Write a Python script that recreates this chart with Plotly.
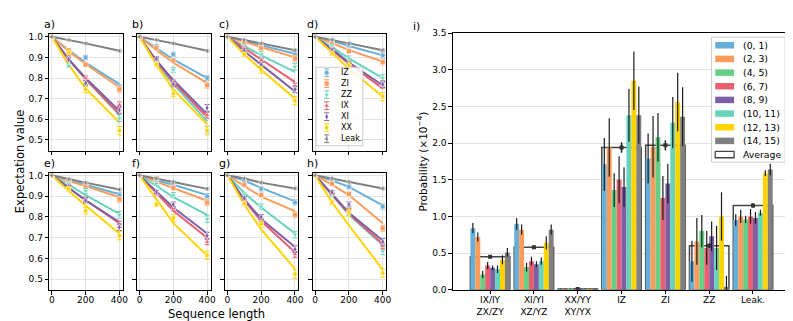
import plotly.graph_objects as go

W, H = 793, 321

# ---- left panels: Pauli expectation values vs sequence length ----
seq_len = [0, 100, 200, 400]
names = ['IZ', 'ZI', 'ZZ', 'IX', 'XI', 'XX', 'Leak.']
line_colors = ['#68afd8', '#fd9b5b', '#67d3bc', '#e8606f', '#7d5fa6', '#ffd400', '#7f7f7f']
symbols = ['circle', 'square', 'triangle-down', 'triangle-up', 'diamond-tall', 'hexagon', 'triangle-left']

# fitted curves (order: IZ, ZI, ZZ, IX, XI, XX, Leak.)
a_fit = [[1.0, 0.935, 0.875, 0.77], [1.0, 0.93, 0.868, 0.755], [1.0, 0.89, 0.795, 0.62], [1.0, 0.89, 0.795, 0.625],
         [1.0, 0.89, 0.80, 0.64], [1.0, 0.865, 0.75, 0.585], [1.0, 0.985, 0.968, 0.932]]
b_fit = [[1.0, 0.945, 0.89, 0.80], [1.0, 0.935, 0.875, 0.775], [1.0, 0.875, 0.77, 0.59], [1.0, 0.88, 0.78, 0.61],
         [1.0, 0.885, 0.79, 0.625], [1.0, 0.865, 0.745, 0.575], [1.0, 0.985, 0.968, 0.932]]
c_fit = [[1.0, 0.98, 0.96, 0.918], [1.0, 0.975, 0.95, 0.90], [1.0, 0.955, 0.91, 0.83], [1.0, 0.945, 0.89, 0.78],
         [1.0, 0.93, 0.865, 0.735], [1.0, 0.915, 0.84, 0.70], [1.0, 0.985, 0.968, 0.935]]
d_fit = [[1.0, 0.98, 0.955, 0.91], [1.0, 0.97, 0.935, 0.88], [1.0, 0.95, 0.895, 0.80], [1.0, 0.935, 0.87, 0.75],
         [1.0, 0.94, 0.875, 0.765], [1.0, 0.92, 0.845, 0.71], [1.0, 0.985, 0.968, 0.935]]
e_fit = [[1.0, 0.975, 0.955, 0.909], [1.0, 0.972, 0.948, 0.895], [1.0, 0.955, 0.905, 0.815], [1.0, 0.94, 0.88, 0.77],
         [1.0, 0.94, 0.88, 0.775], [1.0, 0.925, 0.855, 0.72], [1.0, 0.982, 0.965, 0.932]]
f_fit = [[1.0, 0.975, 0.955, 0.905], [1.0, 0.97, 0.94, 0.878], [1.0, 0.95, 0.895, 0.81], [1.0, 0.915, 0.83, 0.70],
         [1.0, 0.92, 0.845, 0.72], [1.0, 0.885, 0.77, 0.615], [1.0, 0.985, 0.968, 0.935]]
g_fit = [[1.0, 0.975, 0.94, 0.875], [1.0, 0.95, 0.898, 0.828], [1.0, 0.915, 0.845, 0.72], [1.0, 0.88, 0.78, 0.63],
         [1.0, 0.885, 0.79, 0.655], [1.0, 0.86, 0.74, 0.55], [1.0, 0.985, 0.965, 0.937]]
h_fit = [[1.0, 0.975, 0.945, 0.855], [1.0, 0.955, 0.905, 0.77], [1.0, 0.905, 0.81, 0.665], [1.0, 0.905, 0.815, 0.67],
         [1.0, 0.91, 0.82, 0.687], [1.0, 0.87, 0.76, 0.546], [1.0, 0.985, 0.968, 0.937]]

# measured points
a_data = [[1.0, 0.93, 0.90, 0.755], [1.0, 0.935, 0.865, 0.745], [1.0, 0.86, 0.755, 0.605], [1.0, 0.905, 0.80, 0.67],
          [1.0, 0.89, 0.775, 0.645], [1.0, 0.925, 0.745, 0.545], [1.0, 0.985, 0.968, 0.932]]
b_data = [[1.0, 0.955, 0.915, 0.80], [1.0, 0.945, 0.885, 0.765], [1.0, 0.875, 0.84, 0.55], [1.0, 0.89, 0.78, 0.62],
          [1.0, 0.895, 0.77, 0.655], [1.0, 0.865, 0.725, 0.545], [1.0, 0.985, 0.968, 0.932]]
c_data = [[1.0, 0.98, 0.96, 0.915], [1.0, 0.97, 0.945, 0.895], [1.0, 0.955, 0.915, 0.855], [1.0, 0.945, 0.885, 0.76],
          [1.0, 0.935, 0.865, 0.745], [1.0, 0.915, 0.84, 0.69], [1.0, 0.985, 0.968, 0.935]]
d_data = [[1.0, 0.985, 0.96, 0.91], [1.0, 0.965, 0.93, 0.878], [1.0, 0.955, 0.895, 0.80], [1.0, 0.94, 0.87, 0.765],
          [1.0, 0.935, 0.86, 0.77], [1.0, 0.92, 0.86, 0.71], [1.0, 0.985, 0.968, 0.935]]
e_data = [[1.0, 0.975, 0.955, 0.905], [1.0, 0.97, 0.95, 0.885], [1.0, 0.96, 0.925, 0.81], [1.0, 0.945, 0.885, 0.765],
          [1.0, 0.945, 0.88, 0.75], [1.0, 0.935, 0.83, 0.71], [1.0, 0.982, 0.965, 0.932]]
f_data = [[1.0, 0.975, 0.96, 0.90], [1.0, 0.985, 0.94, 0.87], [1.0, 0.96, 0.905, 0.79], [1.0, 0.91, 0.84, 0.68],
          [1.0, 0.92, 0.86, 0.71], [1.0, 0.86, 0.795, 0.615], [1.0, 0.985, 0.968, 0.935]]
g_data = [[1.0, 0.975, 0.935, 0.87], [1.0, 0.955, 0.905, 0.81], [1.0, 0.91, 0.85, 0.715], [1.0, 0.885, 0.78, 0.62],
          [1.0, 0.89, 0.80, 0.645], [1.0, 0.865, 0.765, 0.525], [1.0, 0.985, 0.965, 0.937]]
h_data = [[1.0, 0.975, 0.945, 0.85], [1.0, 0.96, 0.91, 0.745], [1.0, 0.905, 0.82, 0.635], [1.0, 0.91, 0.83, 0.66],
          [1.0, 0.92, 0.86, 0.68], [1.0, 0.87, 0.82, 0.53], [1.0, 0.985, 0.968, 0.937]]

point_err = [[0, 0.006, 0.01, 0.012], [0, 0.006, 0.01, 0.014], [0, 0.008, 0.012, 0.016], [0, 0.006, 0.01, 0.014],
             [0, 0.008, 0.012, 0.016], [0, 0.01, 0.016, 0.02], [0, 0.002, 0.003, 0.004]]

# ---- right panel: error probabilities per qubit pair ----
groups = ['IX/IY<br>ZX/ZY', 'XI/YI<br>XZ/YZ', 'XX/YY<br>XY/YX', 'IZ', 'ZI', 'ZZ', 'Leak.']
group_pos = [0, 1, 2, 3, 4, 5, 6]
pairs = ['(0, 1)', '(2, 3)', '(4, 5)', '(6, 7)', '(8, 9)', '(10, 11)', '(12, 13)', '(14, 15)']
bar_colors = ['#68afd8', '#fd9b5b', '#66cf86', '#e8606f', '#7d5fa6', '#67d3bc', '#ffd400', '#808080']

p01 = [0.84, 0.90, 0.01, 1.71, 1.79, 0.39, 0.95]
p23 = [0.72, 0.82, 0.01, 1.94, 1.95, 0.66, 1.00]
p45 = [0.21, 0.31, 0.02, 1.36, 2.08, 0.80, 0.96]
p67 = [0.33, 0.39, 0.01, 1.50, 1.25, 0.57, 1.00]
p89 = [0.30, 0.35, 0.01, 1.40, 1.45, 0.73, 0.98]
p1011 = [0.28, 0.39, 0.01, 2.38, 2.28, 0.57, 1.05]
p1213 = [0.41, 0.64, 0.01, 2.85, 2.56, 1.00, 1.59]
p1415 = [0.51, 0.82, 0.01, 2.38, 2.36, 0.04, 1.64]

e01 = [0.07, 0.08, 0.005, 0.36, 0.34, 0.28, 0.08]
e23 = [0.06, 0.07, 0.005, 0.40, 0.42, 0.32, 0.09]
e45 = [0.05, 0.06, 0.005, 0.23, 0.33, 0.22, 0.05]
e67 = [0.05, 0.06, 0.005, 0.32, 0.30, 0.23, 0.10]
e89 = [0.03, 0.04, 0.005, 0.27, 0.27, 0.20, 0.08]
e1011 = [0.05, 0.05, 0.005, 0.36, 0.35, 0.30, 0.04]
e1213 = [0.06, 0.09, 0.005, 0.40, 0.40, 0.33, 0.04]
e1415 = [0.06, 0.07, 0.005, 0.39, 0.40, 0.15, 0.08]

avg = [0.45, 0.58, 0.01, 1.94, 1.97, 0.60, 1.15]
avg_err = [0.02, 0.02, 0.003, 0.07, 0.07, 0.03, 0.03]

bar_vals = [p01, p23, p45, p67, p89, p1011, p1213, p1415]
bar_errs = [e01, e23, e45, e67, e89, e1011, e1213, e1415]

font = 'DejaVu Sans'
fig = go.Figure()

panels = [('a)', a_fit, a_data), ('b)', b_fit, b_data), ('c)', c_fit, c_data), ('d)', d_fit, d_data),
          ('e)', e_fit, e_data), ('f)', f_fit, f_data), ('g)', g_fit, g_data), ('h)', h_fit, h_data)]
col_left = [41.5, 129.8, 218.2, 306.5]
row_span = [(22, 142), (165, 286)]

frame = dict(showline=True, linecolor='black', linewidth=1, mirror=True, ticks='outside',
             ticklen=3.5, tickwidth=1, tickcolor='black', zeroline=False,
             tickfont=dict(family=font, size=9, color='black'))

layout = {}
annotations = []
for k, (label, fit, data) in enumerate(panels):
    n = k + 1
    sfx = '' if n == 1 else str(n)
    row, col = k // 4, k % 4
    for i in range(7):
        fig.add_trace(go.Scatter(x=seq_len, y=fit[i], mode='lines', showlegend=False,
                                 line=dict(color=line_colors[i], width=2),
                                 xaxis='x' + sfx, yaxis='y' + sfx))
    for i in range(7):
        fig.add_trace(go.Scatter(x=seq_len, y=data[i], mode='markers', showlegend=False,
                                 marker=dict(symbol=symbols[i], size=5, color=line_colors[i],
                                             line=dict(color='white', width=0.6)),
                                 error_y=dict(type='data', array=point_err[i], color=line_colors[i],
                                              thickness=1, width=2.5),
                                 xaxis='x' + sfx, yaxis='y' + sfx))
    x0 = col_left[col]
    top, bot = row_span[row]
    layout['xaxis' + sfx] = dict(domain=[x0 / W, (x0 + 74) / W], range=[-15, 420],
                                 tickvals=[0, 200, 400], showticklabels=(row == 1),
                                 ticklabelstandoff=-2,
                                 anchor='y' + sfx, showgrid=True, gridcolor='#e3e3e3', **frame)
    layout['yaxis' + sfx] = dict(domain=[1 - bot / H, 1 - top / H], range=[0.448, 1.012],
                                 tickvals=[0.5, 0.6, 0.7, 0.8, 0.9, 1.0], tickformat='.1f',
                                 showticklabels=(col == 0), anchor='x' + sfx,
                                 showgrid=True, gridcolor='#e3e3e3', **frame)
    annotations.append(dict(x=x0 - 7.5, y=top - 10, text=label, xref='x10', yref='y10',
                            xanchor='left', yanchor='middle', showarrow=False,
                            font=dict(family=font, size=11, color='black')))

# average outline bar, behind the colored bars
fig.add_trace(go.Bar(x=group_pos, y=avg, width=0.9, offset=-0.45, showlegend=False,
                     marker=dict(color='rgba(255,255,255,0)', line=dict(color='#444', width=1.5)),
                     xaxis='x9', yaxis='y9'))
for j in range(8):
    fig.add_trace(go.Bar(x=group_pos, y=bar_vals[j], width=0.1125, offset=-0.45 + j * 0.1125,
                         showlegend=False, marker=dict(color=bar_colors[j], line=dict(width=0)),
                         error_y=dict(type='data', array=bar_errs[j], color='#1a1a1a',
                                      thickness=1.2, width=0),
                         xaxis='x9', yaxis='y9'))
fig.add_trace(go.Scatter(x=group_pos, y=avg, mode='markers', showlegend=False,
                         marker=dict(symbol='square', size=4, color='#333'),
                         error_y=dict(type='data', array=avg_err, color='#222', thickness=1.5, width=0),
                         xaxis='x9', yaxis='y9'))

layout['xaxis9'] = dict(domain=[447.7 / W, 785 / W], range=[-0.85, 6.8], tickvals=group_pos,
                        ticktext=groups, anchor='y9', showgrid=False, ticklabelstandoff=-2, **frame)
layout['yaxis9'] = dict(domain=[1 - 285.7 / H, 1 - 20.7 / H], range=[0, 3.5],
                        tickvals=[0, 0.5, 1.0, 1.5, 2.0, 2.5, 3.0, 3.5], tickformat='.1f',
                        anchor='x9', showgrid=True, gridcolor='#e3e3e3', **frame)

# overlay axis in pixel units, used for the hand-made legends and labels
layout['xaxis10'] = dict(domain=[0, 1], range=[0, W], visible=False, fixedrange=True, anchor='y10')
layout['yaxis10'] = dict(domain=[0, 1], range=[H, 0], visible=False, fixedrange=True, anchor='x10')

# left legend (inside panel d)
fig.add_trace(go.Scatter(x=[310, 357, 357, 310, 310], y=[56, 56, 137, 137, 56], mode='lines',
                         fill='toself', fillcolor='rgba(255,255,255,0.85)',
                         line=dict(color='#cccccc', width=1), showlegend=False, hoverinfo='skip',
                         xaxis='x10', yaxis='y10'))
leg_y = [61.7, 72.9, 84.3, 95.7, 107.0, 118.4, 129.8]
for i in range(7):
    fig.add_trace(go.Scatter(x=[320.7], y=[leg_y[i]], mode='markers', showlegend=False, hoverinfo='skip',
                             marker=dict(symbol=symbols[i], size=5, color=line_colors[i],
                                         line=dict(color='white', width=0.6)),
                             error_y=dict(type='data', array=[4], color=line_colors[i], thickness=1, width=2.5),
                             xaxis='x10', yaxis='y10'))
    annotations.append(dict(x=333.5, y=leg_y[i], text=names[i], xref='x10', yref='y10',
                            xanchor='left', yanchor='middle', showarrow=False,
                            font=dict(family=font, size=8, color='black')))

# bar legend (top right of panel i)
fig.add_trace(go.Scatter(x=[708, 782, 782, 708, 708], y=[25, 25, 154, 154, 25], mode='lines',
                         fill='toself', fillcolor='rgba(255,255,255,0.85)',
                         line=dict(color='#cccccc', width=1), showlegend=False, hoverinfo='skip',
                         xaxis='x10', yaxis='y10'))
bar_leg_y = [33.3 + 14.1 * j for j in range(9)]
for j in range(8):
    fig.add_trace(go.Scatter(x=[711.7, 730.7], y=[bar_leg_y[j], bar_leg_y[j]], mode='lines',
                             line=dict(color=bar_colors[j], width=6.5), showlegend=False, hoverinfo='skip',
                             xaxis='x10', yaxis='y10'))
    annotations.append(dict(x=738, y=bar_leg_y[j], text=pairs[j], xref='x10', yref='y10',
                            xanchor='left', yanchor='middle', showarrow=False,
                            font=dict(family=font, size=9.3, color='black')))
ya = bar_leg_y[8]
fig.add_trace(go.Scatter(x=[711.7, 730.7, 730.7, 711.7, 711.7], y=[ya - 3.3, ya - 3.3, ya + 3.3, ya + 3.3, ya - 3.3],
                         mode='lines', line=dict(color='#444', width=1.3), showlegend=False, hoverinfo='skip',
                         xaxis='x10', yaxis='y10'))
annotations.append(dict(x=738, y=ya, text='Average', xref='x10', yref='y10', xanchor='left',
                        yanchor='middle', showarrow=False, font=dict(family=font, size=9.3, color='black')))

# titles and labels
annotations += [
    dict(x=12, y=153, text='Expectation value', textangle=-90, xref='x10', yref='y10',
         showarrow=False, font=dict(family=font, size=11.5, color='black')),
    dict(x=210, y=311, text='Sequence length', xref='x10', yref='y10',
         showarrow=False, font=dict(family=font, size=11.5, color='black')),
    dict(x=416, y=153, text='Probability (×10<sup>−4</sup>)', textangle=-90, xref='x10', yref='y10',
         showarrow=False, font=dict(family=font, size=10.5, color='black')),
    dict(x=406, y=14, text='i)', xref='x10', yref='y10', xanchor='left',
         showarrow=False, font=dict(family=font, size=11, color='black')),
]

fig.update_layout(**layout)
fig.update_layout(
    width=W, height=H,
    margin=dict(l=0, r=0, t=0, b=0),
    paper_bgcolor='white', plot_bgcolor='rgba(0,0,0,0)',
    barmode='overlay',
    showlegend=False,
    annotations=annotations,
    font=dict(family=font, size=9, color='black'),
)

fig.write_html("out.html")
